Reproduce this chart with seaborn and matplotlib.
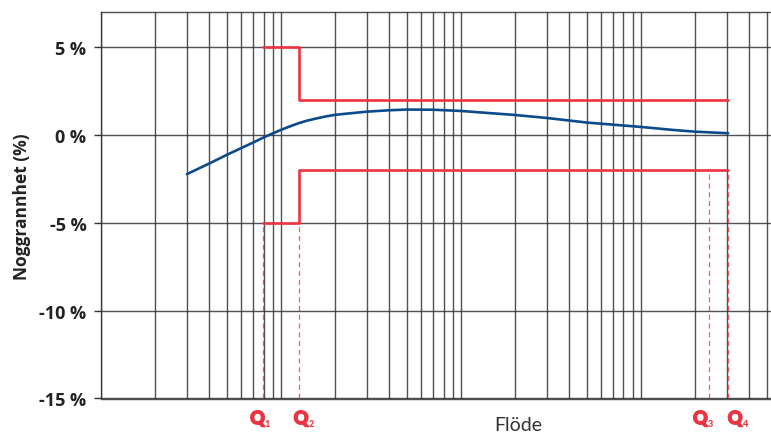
import numpy as np
import pandas as pd
import matplotlib
matplotlib.use("Agg")
import matplotlib.pyplot as plt
import matplotlib.patheffects as pe
from matplotlib.ticker import LogLocator, NullFormatter, FixedLocator
import seaborn as sns

# ---- data ----
flow = [3, 4, 5, 6, 7, 8, 9, 10, 11, 12.6, 14, 16, 18, 20, 25, 30, 40, 50, 70, 100,
        200, 300, 500, 1000, 1500, 2000, 3050]
accuracy = [-2.22, -1.61, -1.12, -0.74, -0.42, -0.13, 0.10, 0.30, 0.47, 0.69, 0.83, 0.97, 1.08,
            1.16, 1.26, 1.34, 1.42, 1.46, 1.45, 1.38, 1.15, 0.98, 0.72, 0.47, 0.30, 0.20, 0.11]
q_flows = [7.9, 12.6, 2400, 3050]          # Q1, Q2, Q3, Q4
q_labels = ["1", "2", "3", "4"]
mpe_low_zone = 5    # +/- % between Q1 and Q2
mpe_high_zone = 2   # +/- % between Q2 and Q4
yticks = [5, 0, -5, -10, -15]
ytick_labels = ["5 %", "0 %", "-5 %", "-10 %", "-15 %"]

sns.set_theme(style="white")
plt.rcParams['font.family'] = ['Lato', 'DejaVu Sans']

RED = "#EE3340"
BLUE = "#0B4A8B"
GRID = "#333333"
TXT = "#222222"

fig = plt.figure(figsize=(7.71, 4.35), dpi=100)
ax = fig.add_axes([101/771, 1 - 399.5/435, 1 - 101/771, (399.5 - 13.3)/435])

ax.set_xscale("log")
ax.set_xlim(1, 5280)
ax.set_ylim(-15, 7)

# grid
ax.xaxis.set_major_locator(LogLocator(base=10, subs=np.arange(1, 10)))
ax.xaxis.set_minor_locator(FixedLocator([]))
ax.xaxis.set_major_formatter(NullFormatter())
ax.set_yticks(yticks)
ax.grid(True, which="major", axis="both", color=GRID, lw=1.0, alpha=0.85)
ax.set_axisbelow(True)

for s in ["left", "bottom", "top"]:
    ax.spines[s].set_color(GRID)
    ax.spines[s].set_linewidth(1.0)
    ax.spines[s].set_alpha(0.85)
ax.spines["right"].set_visible(False)

ax.tick_params(axis="y", which="major", length=5, width=1.0, color=GRID, direction="out",
               pad=5.5, left=True)
ax.tick_params(axis="x", which="both", length=0)

# MPE envelope
q1, q2, q3, q4 = q_flows
upper = pd.DataFrame({"x": [q1, q2, q2, q4],
                      "y": [mpe_low_zone, mpe_low_zone, mpe_high_zone, mpe_high_zone]})
lower = pd.DataFrame({"x": [q1, q2, q2, q4],
                      "y": [-mpe_low_zone, -mpe_low_zone, -mpe_high_zone, -mpe_high_zone]})
sns.lineplot(data=upper, x="x", y="y", sort=False, estimator=None, color=RED, lw=1.9, ax=ax)
sns.lineplot(data=lower, x="x", y="y", sort=False, estimator=None, color=RED, lw=1.9, ax=ax)

# dashed Q markers
dash_tops = [-mpe_low_zone, -mpe_low_zone, -mpe_high_zone, -mpe_high_zone]
ax.vlines(q_flows, ymin=-15, ymax=dash_tops, colors=RED, lw=0.9, linestyles=(0, (4, 3)), alpha=0.8)

# curve
curve = pd.DataFrame({"flow": flow, "acc": accuracy})
sns.lineplot(data=curve, x="flow", y="acc", color=BLUE, lw=1.9, ax=ax)

ax.set_xlabel("")
ax.set_ylabel("Noggrannhet (%)", fontsize=12.5, fontweight="bold", color=TXT, labelpad=6,
              family=["Open Sans", "DejaVu Sans"])
ax.set_yticklabels(ytick_labels, fontsize=13, fontweight="bold", color=TXT,
                   family=["Open Sans", "DejaVu Sans"])

# Q labels (big heavy Q with small subscript digit)
heavy = [pe.withStroke(linewidth=1.1, foreground=RED)]
q_offsets = [-5, 2, -9, 7]   # pixel offset of the "Q" centre from its dashed line
for q, lab, off in zip(q_flows, q_labels, q_offsets):
    ax.annotate("Q", xy=(q, -15), xycoords="data", xytext=(off, -20), textcoords="offset pixels",
                ha="center", va="center", color=RED, fontsize=13, fontweight="black",
                path_effects=heavy)
    ax.annotate(lab, xy=(q, -15), xycoords="data", xytext=(off + 10, -25), textcoords="offset pixels",
                ha="center", va="center", color=RED, fontsize=6.5, fontweight="black")

fig.text(518 / 771, 1 - 426 / 435, "Flöde", ha="center", va="center", fontsize=14, color="#333333")

fig.savefig("out.png", dpi=100)
